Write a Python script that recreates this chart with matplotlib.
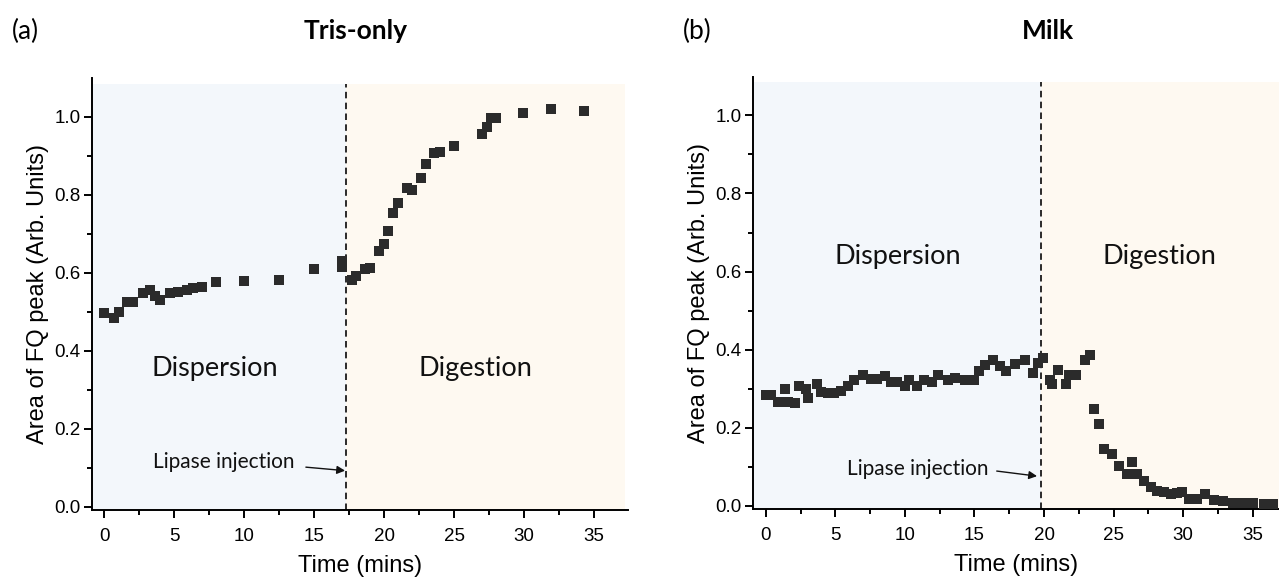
import numpy as np
import matplotlib
matplotlib.use("Agg")
import matplotlib.pyplot as plt
from matplotlib.ticker import MultipleLocator

# ---- data ----
# (a) Tris-only
time_a = [0, 0.67, 1.07, 1.6, 2.03, 2.79, 3.26, 3.62, 3.98, 4.69,
          5.29, 5.89, 6.36, 6.96, 7.98, 9.98, 12.48, 14.98, 16.96, 16.96,
          17.67, 17.98, 18.62, 18.98, 19.64, 19.98, 20.29, 20.6, 20.96, 21.6,
          21.96, 22.6, 22.96, 23.57, 23.98, 24.98, 26.96, 27.31, 27.62, 27.96,
          29.89, 31.89, 34.26]
area_a = [0.497, 0.484, 0.498, 0.524, 0.526, 0.547, 0.556, 0.539, 0.530, 0.547,
          0.551, 0.556, 0.560, 0.564, 0.575, 0.580, 0.582, 0.610, 0.630, 0.615,
          0.582, 0.592, 0.609, 0.612, 0.656, 0.673, 0.707, 0.753, 0.780, 0.817,
          0.813, 0.843, 0.880, 0.908, 0.910, 0.926, 0.956, 0.973, 0.998, 0.998,
          1.011, 1.021, 1.016]
inject_a = 17.3

# (b) Milk
time_b = [0, 0.4, 0.88, 1.36, 1.6, 2.07, 2.38, 2.9, 3.0, 3.67,
          3.98, 4.45, 4.93, 5.4, 5.88, 6.36, 6.95, 7.55, 8.02, 8.57,
          8.98, 9.45, 9.98, 10.3, 10.9, 11.36, 11.95, 12.4, 13.1, 13.6,
          14.3, 14.95, 15.3, 15.76, 16.3, 16.83, 17.3, 17.9, 18.62, 19.2,
          19.57, 19.93, 20.4, 20.6, 21.0, 21.6, 21.8, 22.3, 22.96, 23.3,
          23.6, 23.97, 24.3, 24.9, 25.4, 26.0, 26.3, 26.7, 27.2, 27.67,
          28.1, 28.6, 29.1, 29.6, 29.9, 30.4, 31.0, 31.6, 32.2, 32.9,
          33.6, 34.3, 35.0, 35.8, 36.5]
area_b = [0.283, 0.283, 0.266, 0.300, 0.266, 0.263, 0.308, 0.300, 0.277, 0.313,
          0.291, 0.289, 0.289, 0.295, 0.306, 0.321, 0.334, 0.325, 0.325, 0.332,
          0.317, 0.317, 0.308, 0.323, 0.308, 0.323, 0.317, 0.334, 0.323, 0.328,
          0.323, 0.323, 0.345, 0.360, 0.373, 0.357, 0.346, 0.363, 0.373, 0.339,
          0.367, 0.379, 0.321, 0.313, 0.347, 0.313, 0.334, 0.334, 0.373, 0.386,
          0.249, 0.210, 0.146, 0.133, 0.103, 0.081, 0.111, 0.081, 0.064, 0.047,
          0.039, 0.036, 0.031, 0.033, 0.036, 0.017, 0.017, 0.031, 0.015, 0.013,
          0.007, 0.007, 0.007, 0.005, 0.005]
inject_b = 19.76

# ---- style ----
tick_font = "Liberation Sans"
note_font = "Lato"
c_disp = "#F3F7FB"
c_dig = "#FEF9F1"
c_mark = "#2b2b2b"
shade_top = 1.085

plt.rcParams["font.family"] = tick_font

fig = plt.figure(figsize=(12.79, 5.77), dpi=100, facecolor="white")


def draw_panel(ax, t, y, inject, xlim, shade_end, disp_xy, dig_xy, lip_xy,
               arrow_from, arrow_to):
    ylim = (-0.009, 1.099)
    ax.set_xlim(*xlim)
    ax.set_ylim(*ylim)
    frac = (shade_top - ylim[0]) / (ylim[1] - ylim[0])
    ax.axvspan(xlim[0], inject, ymin=0, ymax=frac, color=c_disp, lw=0, zorder=0)
    ax.axvspan(inject, shade_end, ymin=0, ymax=frac, color=c_dig, lw=0, zorder=0)
    ax.axvline(inject, ymin=0, ymax=frac, color="#1a1a1a", lw=1.3,
               linestyle=(0, (3.6, 2.4)), zorder=1)

    ax.plot(t, y, "s", color=c_mark, ms=6.8, mew=0, zorder=3)

    for side in ("top", "right"):
        ax.spines[side].set_visible(False)
    for side in ("left", "bottom"):
        ax.spines[side].set_linewidth(1.4)

    ax.xaxis.set_major_locator(MultipleLocator(5))
    ax.xaxis.set_minor_locator(MultipleLocator(2.5))
    ax.yaxis.set_major_locator(MultipleLocator(0.2))
    ax.yaxis.set_minor_locator(MultipleLocator(0.1))
    ax.yaxis.set_major_formatter(matplotlib.ticker.FormatStrFormatter("%.1f"))
    ax.tick_params(which="major", direction="out", length=6, width=1.4, labelsize=13.5)
    ax.tick_params(which="minor", direction="out", length=3.5, width=1.4)
    ax.tick_params(axis="x", which="major", pad=7)
    ax.tick_params(axis="y", which="major", pad=2)
    ax.set_facecolor("white")

    ax.set_xlabel("Time (mins)", fontsize=17, labelpad=7)
    ax.set_ylabel("Area of FQ peak (Arb. Units)", fontsize=17, labelpad=4)

    ax.text(*disp_xy, "Dispersion", fontsize=19.5, family=note_font,
            ha="center", va="center", color="#111111")
    ax.text(*dig_xy, "Digestion", fontsize=19.5, family=note_font,
            ha="center", va="center", color="#111111")
    ax.text(*lip_xy, "Lipase injection", fontsize=15, family=note_font,
            ha="left", va="center", color="#111111")
    ax.annotate("", xy=arrow_to, xytext=arrow_from,
                arrowprops=dict(arrowstyle="-|>", color="#111111", lw=1.0,
                                mutation_scale=12, shrinkA=0, shrinkB=0))


ax_a = fig.add_axes([0.0717, 0.1161, 0.4195, 0.7482])
draw_panel(ax_a, time_a, area_a, inject_a, (-0.9, 37.43), 37.2,
           (7.9, 0.353), (26.5, 0.353), (3.5, 0.115),
           (14.4, 0.101), (17.2, 0.092))

ax_b = fig.add_axes([0.5885, 0.1173, 0.4115, 0.7497])
draw_panel(ax_b, time_b, area_b, inject_b, (-0.95, 36.9), 36.9,
           (9.5, 0.638), (28.3, 0.638), (5.86, 0.095),
           (16.6, 0.089), (19.5, 0.076))

fig.text(0.0094, 0.946, "(a)", fontsize=19, family=note_font, ha="left", va="center")
fig.text(0.278, 0.946, "Tris-only", fontsize=19, family=note_font, weight="bold",
         ha="center", va="center")
fig.text(0.534, 0.946, "(b)", fontsize=19, family=note_font, ha="left", va="center")
fig.text(0.819, 0.946, "Milk", fontsize=19, family=note_font, weight="bold",
         ha="center", va="center")

fig.savefig("out.png", dpi=100, facecolor="white")
